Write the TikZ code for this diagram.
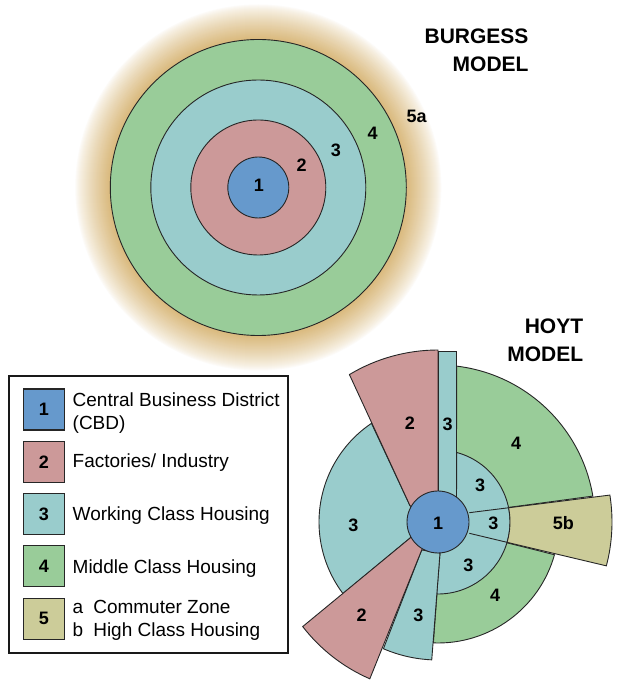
\documentclass[tikz,border=0pt]{standalone}
\usepackage{fontspec}
\setmainfont{Liberation Sans}
\usetikzlibrary{shapes}
\definecolor{cbd}{RGB}{102,153,204}
\definecolor{industry}{RGB}{204,153,153}
\definecolor{working}{RGB}{153,204,204}
\definecolor{middle}{RGB}{153,204,153}
\definecolor{commuter}{RGB}{204,204,153}
\definecolor{haloc}{RGB}{218,186,126}
\tikzstyle{zone} = [draw=black!85, line width=0.9pt]
\tikzstyle{zonelabel} = [font=\fontsize{18}{18}\selectfont\bfseries, inner sep=0pt]
\tikzstyle{title} = [font=\fontsize{21}{21}\selectfont\bfseries, inner sep=0pt, anchor=base east]
\tikzstyle{swatch} = [rectangle, draw=black!85, line width=1.1pt, minimum width=41pt,
    minimum height=41pt, inner sep=0pt, font=\fontsize{18}{18}\selectfont\bfseries]
\tikzstyle{keytext} = [font=\fontsize{19}{19}\selectfont, inner sep=0pt, anchor=base west]

\begin{document}
\begin{tikzpicture}[x=1pt, y=1pt, node distance=52.3pt]
    \useasboundingbox (0,0) rectangle (636,680);
    % Burgess rings, commuter glow fading outwards
    \foreach \r in {184,183,...,149} {
        \pgfmathsetmacro\p{100*((184-\r)/35)^0.8}
        \fill[haloc!\p!white] (258.3,492.5) circle (\r);
    }
    \foreach \r/\c in {148/middle, 107.5/working, 67.5/industry, 30.5/cbd}
        \draw[zone, fill=\c] (258.3,492.5) circle (\r);
    \node[zonelabel] (ring1) at (259,495) {1};
    \node[zonelabel] (ring2) at (301.7,515) {2};
    \node[zonelabel] (ring3) at (336,530) {3};
    \node[zonelabel] (ring4) at (372.7,546.7) {4};
    \node[zonelabel] (ring5) at (416.7,563.3) {5a};
    \node[title] (burgess) at (528.7,636.7) {BURGESS};
    \node[title] (burgessmodel) at (528.7,608.3) {MODEL};
    % Hoyt sectors
    \begin{scope}[shift={(438,158)}]
        \draw[zone, fill=working] (0,0) -- (-28,16.3) -- (124:119)
            arc[start angle=124, end angle=217, radius=119] -- (-26.3,-14.7) -- cycle;
        \draw[zone, fill=industry] (0,0) -- (0,172)
            arc[start angle=90, end angle=121, radius=172] -- (-28,16.3) -- cycle;
        \draw[zone, fill=middle] (2,-31) -- (267.8:121)
            arc[start angle=267.8, end angle=344.3, radius=121] -- (31.3,-11.3) -- cycle;
        \draw[zone, fill=middle] (18.5,25) -- (83.2:157)
            arc[start angle=83.2, end angle=9.5, radius=157] -- (31.3,9.3) -- cycle;
        \draw[zone, fill=working] (18.5,25) -- (74.9:72)
            arc[start angle=74.9, end angle=-91, radius=72] -- (2,-31) -- (0,0) -- cycle;
        \draw[zone, fill=working] (-16.3,-28) -- (246.7:138)
            arc[start angle=246.7, end angle=267.4, radius=138] -- (2,-31) -- cycle;
        \draw[zone, fill=industry] (0,0) -- (-26.3,-14.7) -- (217.7:171)
            arc[start angle=217.7, end angle=246.5, radius=171] -- (-16.3,-28) -- cycle;
        \draw[zone, fill=commuter] (11.4:72) -- (8.9:174)
            arc[start angle=8.9, end angle=-14.6, radius=174] -- (-16.4:72)
            arc[start angle=-16.4, end angle=11.4, radius=72] -- cycle;
        \draw[zone] (31.3,9.3) -- (11.4:72);
        \draw[zone] (31.3,-11.3) -- (-16.4:72);
        \draw[zone, fill=working] (0,20) rectangle (18.5,171);
        \draw[zone, fill=cbd] (0,0) circle (31);
        % Sector labels
        \node[zonelabel] (hoyt1) at (0,-1) {1};
        \node[zonelabel] (north2) at (-28,99) {2};
        \node[zonelabel] (north3) at (9.7,98) {3};
        \node[zonelabel] (northeast4) at (78,78.7) {4};
        \node[zonelabel] (inner3a) at (42,37) {3};
        \node[zonelabel] (inner3b) at (55.3,-1.3) {3};
        \node[zonelabel] (east5) at (125.3,-1.3) {5b};
        \node[zonelabel] (inner3c) at (30.3,-43) {3};
        \node[zonelabel] (southeast4) at (57,-73) {4};
        \node[zonelabel] (south3) at (-19.7,-93) {3};
        \node[zonelabel] (southwest2) at (-76.3,-93) {2};
        \node[zonelabel] (west3) at (-84.7,-3) {3};
    \end{scope}
    \node[title] (hoyt) at (583.3,346.7) {HOYT};
    \node[title] (hoytmodel) at (583.3,318.3) {MODEL};
    % Key
    \draw[line width=1.8pt, draw=black!90] (9.3,26.7) rectangle (288.3,304);
    \node[swatch, fill=cbd] (key1) at (43.8,270.5) {1};
    \node[swatch, fill=industry, below of=key1] (key2) {2};
    \node[swatch, fill=working, below of=key2] (key3) {3};
    \node[swatch, fill=middle, below of=key3] (key4) {4};
    \node[swatch, fill=commuter, below of=key4] (key5) {5};
    \node[keytext] (cbdtext) at (72.5,273.3) {Central Business District};
    \node[keytext] (cbdabbr) at (72.5,250) {(CBD)};
    \node[keytext] (industrytext) at (72.5,212.7) {Factories/ Industry};
    \node[keytext] (workingtext) at (72.5,159) {Working Class Housing};
    \node[keytext] (middletext) at (72.5,106.7) {Middle Class Housing};
    \node[keytext] (commutertext) at (72.5,66.7) {\makebox[20.6pt][l]{a}Commuter Zone};
    \node[keytext] (hightext) at (72.5,43.3) {\makebox[20.6pt][l]{b}High Class Housing};
\end{tikzpicture}
\end{document}
